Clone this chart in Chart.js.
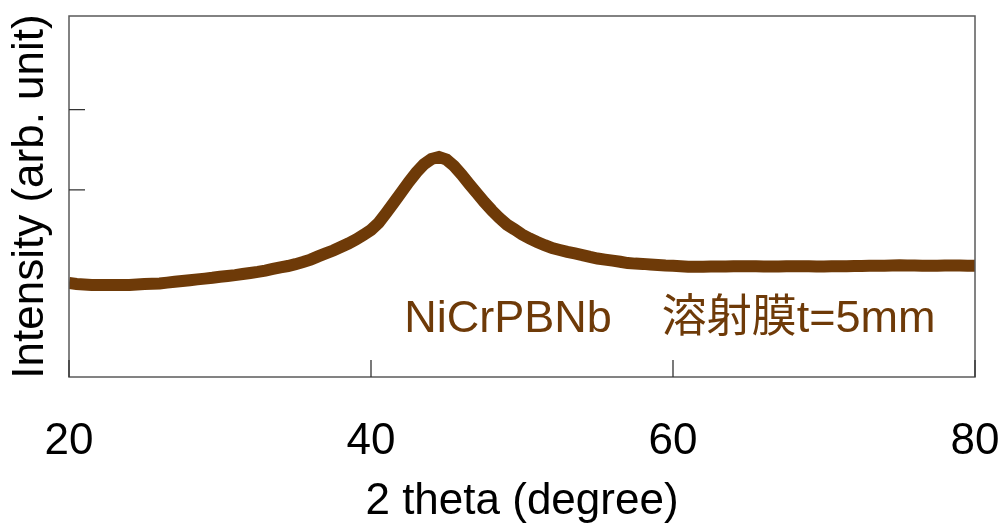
<!DOCTYPE html>
<html>
<head>
<meta charset="utf-8">
<script src="https://cdn.jsdelivr.net/npm/chart.js@4.4.1/dist/chart.umd.min.js"></script>
<style>
html,body{margin:0;padding:0;background:#fff;}
#wrap{width:1004px;height:530px;position:relative;}
</style>
</head>
<body>
<div id="wrap"><canvas id="c" width="1004" height="530"></canvas></div>
<script>
// ---- data ----
const twoTheta = [
 20.0,20.5,21.0,21.5,22.0,22.5,23.0,23.5,24.0,24.5,25.0,25.5,26.0,26.5,27.0,27.5,28.0,28.5,29.0,29.5,
 30.0,30.5,31.0,31.5,32.0,32.5,33.0,33.5,34.0,34.5,35.0,35.5,36.0,36.5,37.0,37.5,38.0,38.5,39.0,39.5,
 40.0,40.5,41.0,41.5,42.0,42.5,43.0,43.5,44.0,44.5,45.0,45.5,46.0,46.5,47.0,47.5,48.0,48.5,49.0,49.5,
 50.0,50.5,51.0,51.5,52.0,52.5,53.0,53.5,54.0,54.5,55.0,55.5,56.0,56.5,57.0,57.5,58.0,58.5,59.0,59.5,
 60.0,60.5,61.0,61.5,62.0,62.5,63.0,63.5,64.0,64.5,65.0,65.5,66.0,66.5,67.0,67.5,68.0,68.5,69.0,69.5,
 70.0,70.5,71.0,71.5,72.0,72.5,73.0,73.5,74.0,74.5,75.0,75.5,76.0,76.5,77.0,77.5,78.0,78.5,79.0,79.5,
 80.0
];
const intensity = [
 352,348,346,344,344,344,344,344,344,346,348,349,350,353,356,359,362,365,368,371,
 375,378,381,385,389,393,398,404,410,415,422,430,439,451,462,473,486,499,514,531,
 550,576,613,651,690,729,765,795,815,823,813,789,757,722,688,654,623,595,570,552,
 533,518,505,493,482,475,468,462,456,449,443,439,435,431,426,424,423,421,419,417,
 416,414,412,412,412,413,413,413,414,414,414,414,413,413,413,414,414,414,414,413,
 413,414,414,414,415,415,416,416,416,417,418,417,417,416,416,416,417,417,417,416,
 416
];
const xTicks = [20, 40, 60, 80];
const yTicks = [700, 1000];
const xRange = [20, 80];
const yRange = [0, 1350];
const xTitle = '2 theta (degree)';
const yTitle = 'Intensity (arb. unit)';
const annotationText = 'NiCrPBNb    溶射膜t=5mm';
const annotationAt = {x: 42.2, y: 168};

// ---- styling ----
const BROWN = '#6e3a08';
const FONT = "'Liberation Sans', Arial, 'Noto Sans CJK JP', sans-serif";
Chart.defaults.font.family = FONT;
Chart.defaults.color = '#000';

const framePlugin = {
  id: 'frame',
  afterDatasetsDraw(chart) {
    const {ctx, chartArea: a, scales: {x, y}} = chart;
    ctx.save();
    ctx.strokeStyle = '#5a5a5a';
    ctx.lineWidth = 1.5;
    ctx.strokeRect(a.left, a.top, a.right - a.left, a.bottom - a.top);
    ctx.strokeStyle = '#333';
    ctx.lineWidth = 1.3;
    ctx.beginPath();
    x.ticks.forEach(t => {
      const px = x.getPixelForValue(t.value);
      ctx.moveTo(px, a.bottom); ctx.lineTo(px, a.bottom - 17);
    });
    y.ticks.forEach(t => {
      const py = y.getPixelForValue(t.value);
      ctx.moveTo(a.left, py); ctx.lineTo(a.left + 16, py);
    });
    ctx.stroke();
    ctx.fillStyle = BROWN;
    ctx.font = "45px " + FONT;
    ctx.textAlign = 'left';
    ctx.textBaseline = 'alphabetic';
    ctx.fillText(annotationText, x.getPixelForValue(annotationAt.x), y.getPixelForValue(annotationAt.y));
    ctx.restore();
  }
};

new Chart(document.getElementById('c'), {
  type: 'line',
  data: {
    datasets: [{
      data: twoTheta.map((t, i) => ({x: t, y: intensity[i]})),
      borderColor: BROWN,
      borderWidth: 12,
      pointRadius: 0,
      tension: 0,
      clip: 0,
      fill: false
    }]
  },
  options: {
    responsive: false,
    animation: false,
    devicePixelRatio: 1,
    layout: {padding: {top: 16, right: 29, bottom: 0, left: 0}},
    plugins: {legend: {display: false}, tooltip: {enabled: false}},
    scales: {
      x: {
        type: 'linear',
        min: xRange[0], max: xRange[1],
        afterBuildTicks: s => { s.ticks = xTicks.map(v => ({value: v})); },
        afterFit: s => { s.height = 153; s.paddingLeft = 0; s.paddingRight = 0; },
        grid: {display: false, drawTicks: false},
        border: {display: false},
        ticks: {font: {size: 44}, padding: 38, color: '#000', maxRotation: 0},
        title: {display: true, text: xTitle, font: {size: 44}, color: '#000', padding: {top: 0, bottom: 2}}
      },
      y: {
        type: 'linear',
        min: yRange[0], max: yRange[1],
        afterBuildTicks: s => { s.ticks = yTicks.map(v => ({value: v})); },
        afterFit: s => { s.width = 69; },
        grid: {display: false, drawTicks: false},
        border: {display: false},
        ticks: {display: false},
        title: {display: true, text: yTitle, font: {size: 44}, color: '#000', padding: {top: 4, bottom: 0}}
      }
    }
  },
  plugins: [framePlugin]
});
</script>
</body>
</html>
